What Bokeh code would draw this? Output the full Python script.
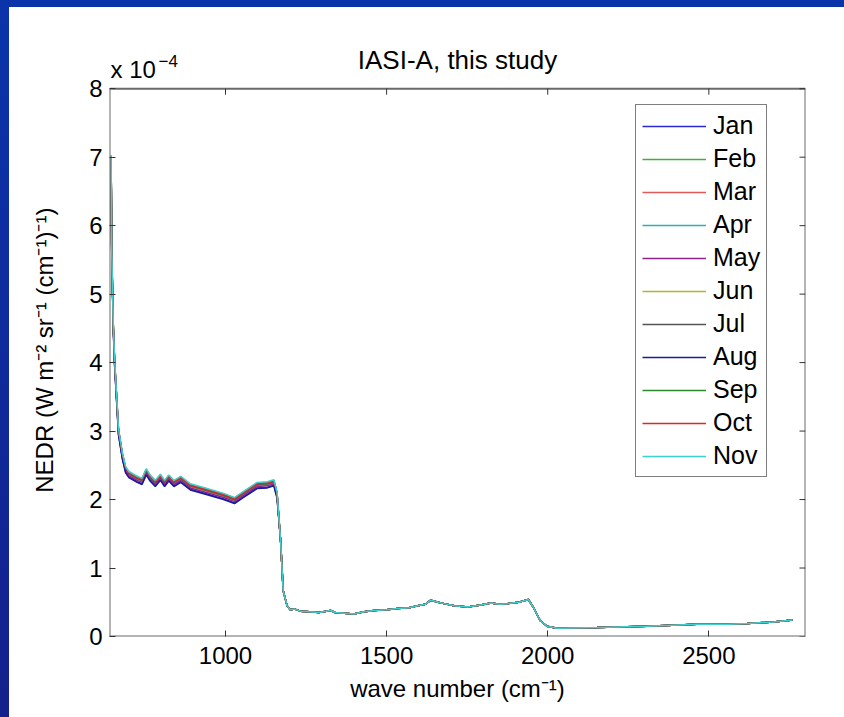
from bokeh.plotting import figure
from bokeh.models import Label, FixedTicker, Range1d, GlobalInlineStyleSheet
from bokeh.embed import file_html
from bokeh.resources import INLINE

# wave number (cm-1) and NEDR in units of 1e-4 W m-2 sr-1 (cm-1)-1
wave = [645, 647, 652, 656, 668, 680, 690, 700, 726, 741, 754, 766, 782, 798, 811, 824,
        840, 861, 891, 943, 994, 1028, 1056, 1098, 1130, 1150, 1160, 1171, 1179, 1191,
        1201, 1215, 1233, 1260, 1290, 1326, 1340, 1398, 1430, 1461, 1500, 1534, 1570,
        1596, 1620, 1637, 1660, 1678, 1710, 1752, 1792, 1824, 1850, 1875, 1910, 1940,
        1955, 1977, 1998, 2029, 2153, 2308, 2463, 2560, 2619, 2700, 2760]
nedr = [7.0, 5.6, 4.5, 4.0, 3.0, 2.65, 2.45, 2.38, 2.31, 2.28, 2.42, 2.33, 2.25, 2.34, 2.25, 2.33,
        2.25, 2.31, 2.20, 2.13, 2.06, 2.00, 2.09, 2.22, 2.23, 2.26, 2.08, 1.40, 0.67, 0.45,
        0.39, 0.40, 0.37, 0.36, 0.35, 0.38, 0.35, 0.33, 0.36, 0.38, 0.39, 0.41, 0.42,
        0.45, 0.47, 0.53, 0.50, 0.48, 0.45, 0.43, 0.46, 0.49, 0.47, 0.48, 0.50, 0.54,
        0.43, 0.23, 0.15, 0.12, 0.13, 0.15, 0.18, 0.18, 0.19, 0.21, 0.24]

months = ["Jan", "Feb", "Mar", "Apr", "May", "Jun", "Jul", "Aug", "Sep", "Oct", "Nov"]
colors = ["#2a2ad0", "#3fae3f", "#e05a5a", "#2fb0b0", "#8e238e", "#b5b52a", "#555555",
          "#1a1a9a", "#2a8a2a", "#d82a2a", "#3fd0d0"]
# month-to-month offset of the longwave band (below ~1170 cm-1), same units
month_shift = [-0.05, -0.01, 0.0, 0.02, -0.03, 0.01, 0.0, -0.06, 0.02, 0.01, 0.03]

x_ticks = [1000, 1500, 2000, 2500]
y_ticks = [0, 1, 2, 3, 4, 5, 6, 7, 8]
x_lim = (640, 2800)
y_lim = (0, 8)
y_top = 8.85   # room above the axes box for the title and the exponent

FONT = "Liberation Sans"

p = figure(width=835, height=710, output_backend="svg", toolbar_location=None,
           x_range=Range1d(*x_lim), y_range=Range1d(y_lim[0], y_top),
           min_border_left=100, min_border_right=39, min_border_top=23, min_border_bottom=81)
p.grid.visible = False
p.outline_line_color = None
p.background_fill_color = "white"
p.border_fill_color = "white"
p.styles = {"background-color": "white"}

for m, c, s in zip(months, colors, month_shift):
    y = [v + s if w < 1170 else v for w, v in zip(wave, nedr)]
    p.line(wave, y, color=c, line_width=1.5, legend_label=m)

for ax, ticks in ((p.xaxis[0], x_ticks), (p.yaxis[0], y_ticks)):
    ax.ticker = FixedTicker(ticks=ticks)
    ax.axis_line_color = None
    ax.major_tick_in = 6
    ax.major_tick_out = 0
    ax.major_tick_line_color = "#333333"
    ax.minor_tick_in = 0
    ax.minor_tick_out = 0
    ax.major_label_text_font = FONT
    ax.major_label_text_font_size = "24px"
    ax.major_label_text_color = "black"
    ax.axis_label_text_font = FONT
    ax.axis_label_text_font_size = "24px"
    ax.axis_label_text_font_style = "normal"
    ax.axis_label_text_color = "black"
p.xaxis.major_label_standoff = 10
p.yaxis.major_label_standoff = 7
p.xaxis.axis_label = "wave number (cm\u207b\u00b9)"
# trailing no-break spaces keep the label centred on the 0-8 box, not on the taller frame
p.yaxis.axis_label = "NEDR (W m\u207b\u00b2 sr\u207b\u00b9 (cm\u207b\u00b9)\u207b\u00b9)" + "\u00a0" * 5
p.xaxis.axis_label_standoff = 8
p.yaxis.axis_label_standoff = 28

# axes box
x0, x1 = x_lim
y0, y1 = y_lim
p.segment([x0, x0, x0, x1], [y0, y1, y0, y0], [x1, x1, x0, x1], [y0, y1, y1, y1],
          color="#6a6a6a", line_width=2)

# inward ticks on the top and right sides of the box
tx = (x1 - x0) * 6 / 696
ty = (y1 - y0) * 6 / 548
p.segment(x_ticks, [y1] * len(x_ticks), x_ticks, [y1 - ty] * len(x_ticks),
          color="#333333", line_width=1)
p.segment([x1] * len(y_ticks), y_ticks, [x1 - tx] * len(y_ticks), y_ticks,
          color="#333333", line_width=1)

p.add_layout(Label(x=1720, y=8.424, text="IASI-A, this study", text_align="center",
                   text_baseline="alphabetic", text_font=FONT, text_font_size="26px",
                   text_color="black"))
p.add_layout(Label(x=643, y=8.277, text="x 10", text_baseline="alphabetic",
                   text_font=FONT, text_font_size="24px", text_color="black"))
p.add_layout(Label(x=792, y=8.407, text="\u22124", text_baseline="alphabetic",
                   text_font=FONT, text_font_size="17px", text_color="black"))

lg = p.legend[0]
lg.location = (526, 159)
lg.margin = 0
lg.padding = 6
lg.spacing = 4
lg.label_text_font = FONT
lg.label_text_font_size = "25px"
lg.label_text_color = "black"
lg.label_height = 28
lg.glyph_height = 20
lg.glyph_width = 64
lg.label_standoff = 7
lg.border_line_color = "black"
lg.border_line_width = 1
lg.background_fill_alpha = 1

p.stylesheets = [GlobalInlineStyleSheet(css=(
    "body { padding: 7px 0 0 9px !important; overflow: hidden; "
    "background: linear-gradient(to bottom, #0a34aa, #14208c) !important; }"
))]

open("out.html", "w").write(file_html(p, INLINE))
